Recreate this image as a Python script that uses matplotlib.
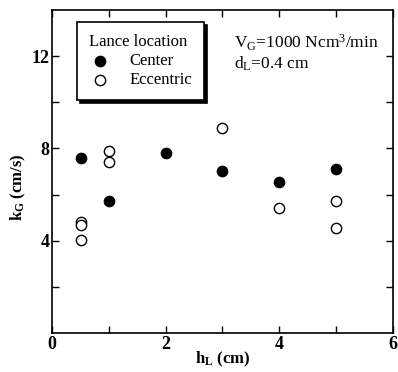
import matplotlib
matplotlib.use('Agg')
from matplotlib import pyplot as plt

plt.rcParams['font.family'] = ['Liberation Serif', 'DejaVu Serif']
plt.rcParams['mathtext.fontset'] = 'custom'
plt.rcParams['mathtext.rm'] = 'Liberation Serif'
plt.rcParams['mathtext.it'] = 'Liberation Serif'
plt.rcParams['mathtext.bf'] = 'Liberation Serif:bold'

# Lance at center
center_h = [0.5, 1.0, 2.0, 3.0, 4.0, 5.0]
center_k = [7.6, 5.7, 7.8, 7.0, 6.55, 7.1]

# Lance eccentric
ecc_h = [0.5, 0.5, 0.5, 1.0, 1.0, 3.0, 4.0, 5.0, 5.0]
ecc_k = [4.83, 4.7, 4.04, 7.9, 7.43, 8.9, 5.43, 5.74, 4.57]

fig = plt.figure(figsize=(3.98, 3.72), dpi=100)
ax = fig.add_axes([0.131, 0.105, 0.856, 0.868])

ax.scatter(center_h, center_k, s=55, color='black', label='Center', zorder=3)
ax.scatter(ecc_h, ecc_k, s=55, facecolors='white', edgecolors='black',
           linewidths=1.0, label='Eccentric', zorder=3)

ax.set_xlim(0, 6)
ax.set_ylim(0, 14)
ax.set_xticks([0, 2, 4, 6])
ax.set_xticks([1, 3, 5], minor=True)
ax.set_yticks([4, 8, 12])
ax.set_yticks([2, 6, 10], minor=True)
ax.tick_params(which='both', direction='in', top=True, right=True,
               length=5, width=1.0, labelsize=13, pad=2)
for lab in ax.get_xticklabels() + ax.get_yticklabels():
    lab.set_fontweight('bold')
for sp in ax.spines.values():
    sp.set_linewidth(1.2)

ax.set_xlabel(r'h$_\mathbf{L}$ (cm)', fontsize=12, fontweight='bold', va='top')
ax.xaxis.set_label_coords(0.5, -0.052)
ax.set_ylabel(r'k$_\mathbf{G}$ (cm/s)', fontsize=12, fontweight='bold')
ax.yaxis.set_label_coords(-0.07, 0.45)

leg = ax.legend(title='Lance location', loc='upper left',
                bbox_to_anchor=(0.073, 0.963), borderaxespad=0,
                fontsize=12, title_fontsize=12,
                frameon=True, fancybox=False, edgecolor='black',
                shadow={'color': 'black', 'alpha': 1.0},
                handlelength=1.3, handletextpad=1.15,
                borderpad=0.7, labelspacing=0.2)
leg.get_frame().set_linewidth(1.2)
leg._legend_box.align = 'left'

ax.text(0.535, 0.898, r'V$_\mathrm{G}$=1000 Ncm$^3$/min', transform=ax.transAxes,
        fontsize=12.5, va='center', ha='left')
ax.text(0.535, 0.833, r'd$_\mathrm{L}$=0.4 cm', transform=ax.transAxes,
        fontsize=12.5, va='center', ha='left')

fig.savefig('out.png', dpi=100)
